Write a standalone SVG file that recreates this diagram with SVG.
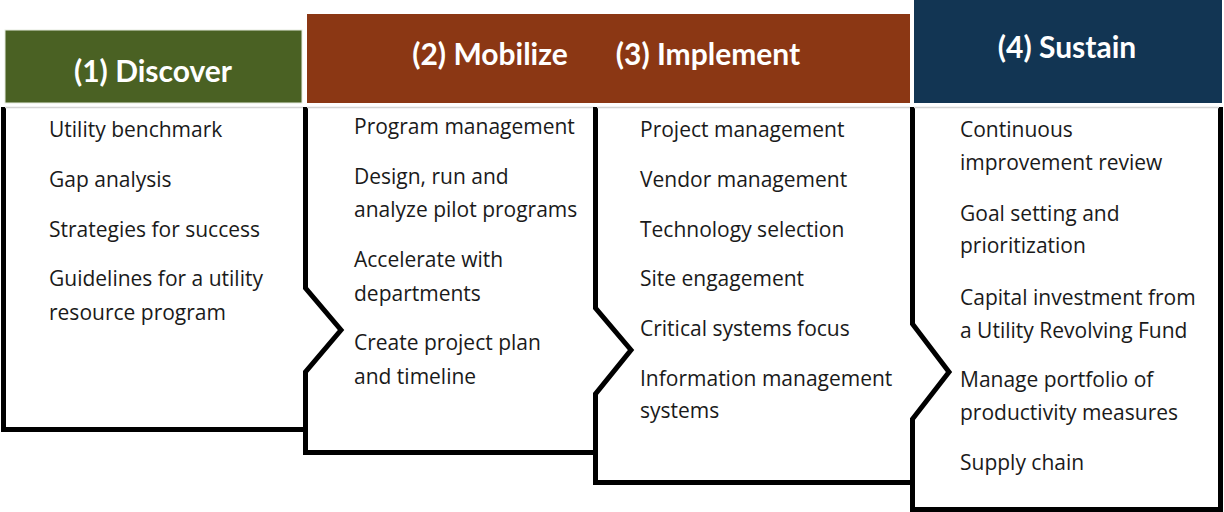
<svg xmlns="http://www.w3.org/2000/svg" width="1224" height="512" viewBox="0 0 1224 512">
  <style>
    .body { fill: #ffffff; stroke: #000000; stroke-width: 5; stroke-linejoin: miter; }
    .topline { stroke: #d4d4d4; stroke-width: 1.5; fill: none; }
    .hdr-text { font-family: Lato, "Liberation Sans", sans-serif; font-weight: bold; font-size: 30px; fill: #ffffff; text-anchor: middle; }
    .item { font-family: "Open Sans", "Liberation Sans", sans-serif; font-size: 21px; fill: #1a1a1a; }
    .green { fill: #4a6123; stroke: #e6ece0; stroke-width: 1; }
    .brown { fill: #8b3714; }
    .navy { fill: #123553; }
  </style>
  <rect width="1224" height="512" fill="#ffffff"/>

  <g id="node-discover">
    <path class="body" d="M3.5,107 L3.5,429.5 L420,429.5 L420,107"/>
    <line class="topline" x1="5" y1="107.5" x2="303" y2="107.5"/>
    <rect class="green" x="5" y="30" width="297" height="73"/>
    <text class="hdr-text" x="153" y="82">(1) Discover</text>
    <text class="item" x="49" y="137">Utility benchmark</text>
    <text class="item" x="49" y="187">Gap analysis</text>
    <text class="item" x="49" y="237">Strategies for success</text>
    <text class="item" x="49" y="286">Guidelines for a utility</text>
    <text class="item" x="49" y="320">resource program</text>
  </g>

  <g id="node-mobilize">
    <path class="body" d="M305.5,107 L305.5,288 L341,330 L305.5,372 L305.5,452.5 L700,452.5 L700,107"/>
    <line class="topline" x1="307" y1="107.5" x2="595" y2="107.5"/>
    <rect class="brown" x="307" y="14" width="290" height="89"/>
    <text class="hdr-text" x="490" y="65">(2) Mobilize</text>
    <text class="item" x="354" y="134">Program management</text>
    <text class="item" x="354" y="184">Design, run and</text>
    <text class="item" x="354" y="217">analyze pilot programs</text>
    <text class="item" x="354" y="267">Accelerate with</text>
    <text class="item" x="354" y="301">departments</text>
    <text class="item" x="354" y="350">Create project plan</text>
    <text class="item" x="354" y="384">and timeline</text>
  </g>

  <g id="node-implement">
    <path class="body" d="M595.5,107 L595.5,308 L631,350 L595.5,394 L595.5,482.5 L1000,482.5 L1000,107"/>
    <line class="topline" x1="597" y1="107.5" x2="910" y2="107.5"/>
    <rect class="brown" x="595" y="14" width="315" height="89"/>
    <text class="hdr-text" x="708" y="65">(3) Implement</text>
    <text class="item" x="640" y="137">Project management</text>
    <text class="item" x="640" y="187">Vendor management</text>
    <text class="item" x="640" y="237">Technology selection</text>
    <text class="item" x="640" y="286">Site engagement</text>
    <text class="item" x="640" y="336">Critical systems focus</text>
    <text class="item" x="640" y="386">Information management</text>
    <text class="item" x="640" y="418">systems</text>
  </g>

  <g id="node-sustain">
    <path class="body" d="M912.5,107 L912.5,324 L949,372 L912.5,419 L912.5,509.5 L1220.5,509.5 L1220.5,107"/>
    <line class="topline" x1="914" y1="107.5" x2="1219" y2="107.5"/>
    <rect class="navy" x="914" y="0" width="308" height="103"/>
    <text class="hdr-text" x="1067" y="58">(4) Sustain</text>
    <text class="item" x="960" y="137">Continuous</text>
    <text class="item" x="960" y="170">improvement review</text>
    <text class="item" x="960" y="221">Goal setting and</text>
    <text class="item" x="960" y="253">prioritization</text>
    <text class="item" x="960" y="305">Capital investment from</text>
    <text class="item" x="960" y="338">a Utility Revolving Fund</text>
    <text class="item" x="960" y="387">Manage portfolio of</text>
    <text class="item" x="960" y="420">productivity measures</text>
    <text class="item" x="960" y="470">Supply chain</text>
  </g>

  <g id="connectors"></g>
</svg>
